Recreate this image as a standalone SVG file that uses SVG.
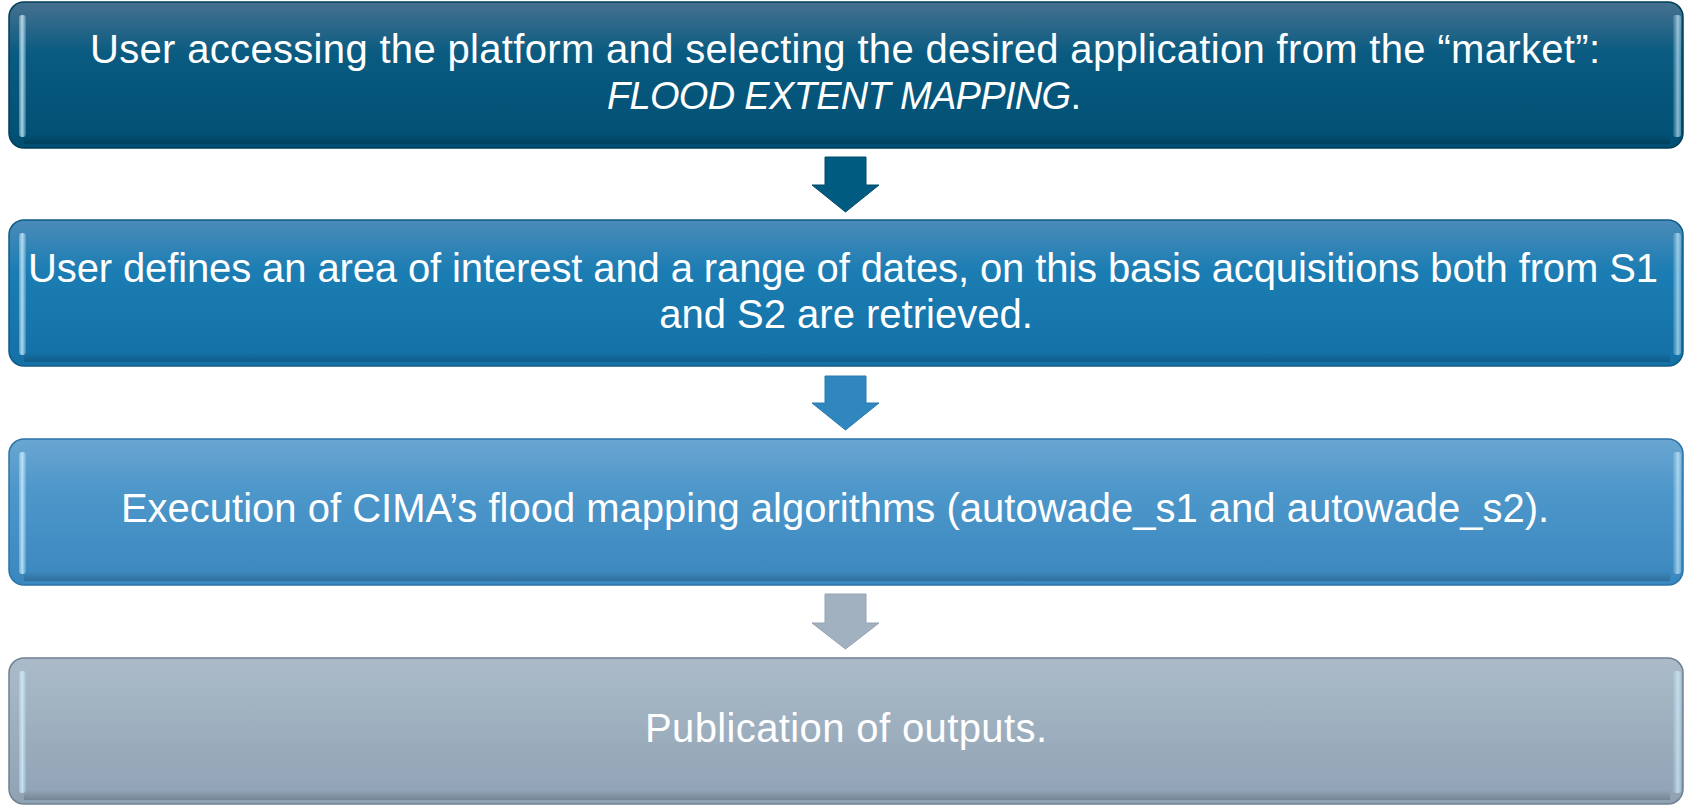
<svg xmlns="http://www.w3.org/2000/svg" width="1699" height="807" viewBox="0 0 1699 807">
<defs>
<linearGradient id="g1" x1="0" y1="0" x2="0" y2="1"><stop offset="0" stop-color="#46718f"/><stop offset="0.35" stop-color="#0a5b81"/><stop offset="1" stop-color="#004f73"/></linearGradient>
<linearGradient id="g2" x1="0" y1="0" x2="0" y2="1"><stop offset="0" stop-color="#4b8bb9"/><stop offset="0.35" stop-color="#1b7db3"/><stop offset="1" stop-color="#1470a6"/></linearGradient>
<linearGradient id="g3" x1="0" y1="0" x2="0" y2="1"><stop offset="0" stop-color="#6aa6d1"/><stop offset="0.35" stop-color="#4d97ca"/><stop offset="1" stop-color="#3a87bf"/></linearGradient>
<linearGradient id="g4" x1="0" y1="0" x2="0" y2="1"><stop offset="0" stop-color="#abbbc9"/><stop offset="0.35" stop-color="#a1b2c1"/><stop offset="1" stop-color="#8fa2b4"/></linearGradient>
<linearGradient id="hl" x1="0" y1="0" x2="1" y2="0"><stop offset="0" stop-color="#bfeaff" stop-opacity="0.35"/><stop offset="0.45" stop-color="#d8f3ff" stop-opacity="0.8"/><stop offset="1" stop-color="#bfeaff" stop-opacity="0.2"/></linearGradient>
<linearGradient id="hr" x1="0" y1="0" x2="1" y2="0"><stop offset="0" stop-color="#bfeaff" stop-opacity="0.1"/><stop offset="0.6" stop-color="#d8f3ff" stop-opacity="0.65"/><stop offset="1" stop-color="#bfeaff" stop-opacity="0.35"/></linearGradient>
<linearGradient id="bb" x1="0" y1="0" x2="0" y2="1"><stop offset="0" stop-color="#000000" stop-opacity="0"/><stop offset="1" stop-color="#000000" stop-opacity="0.18"/></linearGradient>
</defs>
<style>
.t{font-family:"Liberation Sans","Open Sans",Arial,sans-serif;font-size:40px;fill:#ffffff;}
.i{font-style:italic;}
.box{stroke-width:1.5;}
.hl{fill:url(#hl);}
.hr{fill:url(#hr);}
.bb{fill:url(#bb);}
</style>
<rect width="1699" height="807" fill="#ffffff"/>
<g id="node1">
<rect class="box" x="9" y="2" width="1674" height="146" rx="15" fill="url(#g1)" stroke="#003d59"/>
<rect class="hl" x="19" y="15" width="7" height="122" rx="3"/>
<rect class="hr" x="1673" y="15" width="8" height="122" rx="3"/>
<rect class="bb" x="24" y="134" width="1646" height="10"/>
<text class="t" x="90" y="63" textLength="1510" lengthAdjust="spacing">User accessing the platform and selecting the desired application from the “market”:</text>
<text class="t" x="607" y="109" style="font-size:38px" textLength="474" lengthAdjust="spacing"><tspan class="i">FLOOD EXTENT MAPPING</tspan>.</text>
</g>
<g id="node2">
<rect class="box" x="9" y="220" width="1674" height="146" rx="15" fill="url(#g2)" stroke="#0f5b87"/>
<rect class="hl" x="19" y="233" width="7" height="122" rx="3"/>
<rect class="hr" x="1673" y="233" width="8" height="122" rx="3"/>
<rect class="bb" x="24" y="352" width="1646" height="10"/>
<text class="t" x="28" y="282" textLength="1630" lengthAdjust="spacing">User defines an area of interest and a range of dates, on this basis acquisitions both from S1</text>
<text class="t" x="846" y="328" text-anchor="middle">and S2 are retrieved.</text>
</g>
<g id="node3">
<rect class="box" x="9" y="439" width="1674" height="146" rx="15" fill="url(#g3)" stroke="#2c74a8"/>
<rect class="hl" x="19" y="452" width="7" height="122" rx="3"/>
<rect class="hr" x="1673" y="452" width="8" height="122" rx="3"/>
<rect class="bb" x="24" y="571" width="1646" height="10"/>
<text class="t" x="835" y="522" text-anchor="middle">Execution of CIMA’s flood mapping algorithms (autowade_s1 and autowade_s2).</text>
</g>
<g id="node4">
<rect class="box" x="9" y="658" width="1674" height="146" rx="15" fill="url(#g4)" stroke="#6f8193"/>
<rect class="hl" x="19" y="671" width="7" height="122" rx="3"/>
<rect class="hr" x="1673" y="671" width="8" height="122" rx="3"/>
<rect class="bb" x="24" y="790" width="1646" height="10"/>
<text class="t" x="645" y="742" textLength="402" lengthAdjust="spacing">Publication of outputs.</text>
</g>
<g id="connectors">
<path d="M825,157 H866 V185 H879 L845.5,212 L812,185 H825 Z" fill="#005b80" stroke="#004c6c" stroke-width="1"/>
<path d="M825,376 H866 V403 H879 L845.5,430 L812,403 H825 Z" fill="#2f87be" stroke="#2a7aad" stroke-width="1"/>
<path d="M825,594 H866 V623 H879 L845.5,649 L812,623 H825 Z" fill="#a1b1c0" stroke="#93a3b3" stroke-width="1"/>
</g>
</svg>
